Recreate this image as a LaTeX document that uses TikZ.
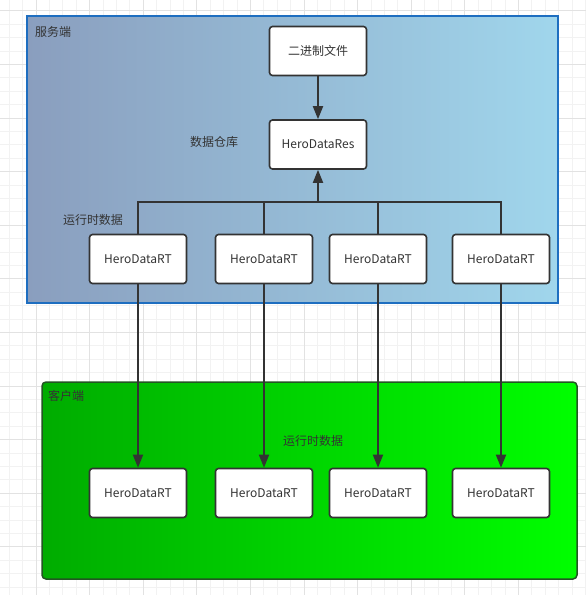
\documentclass[tikz,border=0pt]{standalone}
\usepackage{fontspec}
\setmainfont{Noto Sans CJK SC}
\usepackage{tikz}
\usetikzlibrary{shapes,arrows.meta}
\definecolor{gridminor}{RGB}{242,242,242}
\definecolor{gridmajor}{RGB}{226,226,226}
\definecolor{srvleft}{RGB}{138,158,190}
\definecolor{srvright}{RGB}{160,214,236}
\definecolor{srvline}{RGB}{30,110,192}
\definecolor{cltleft}{RGB}{0,172,0}
\definecolor{cltright}{RGB}{0,255,0}
\definecolor{cltline}{RGB}{35,85,35}
\definecolor{ink}{RGB}{51,51,51}

\begin{document}
\begin{tikzpicture}[x=1pt,y=-1pt,
  databox/.style={draw=ink,line width=1.6pt,fill=white,rounded corners=3pt,
    minimum width=97pt,minimum height=49pt,inner sep=0pt,text=ink,font=\fontsize{12}{14}\selectfont},
  tag/.style={text=ink,inner sep=0pt,font=\fontsize{12}{14}\selectfont},
  link/.style={draw=ink,line width=1.8pt},
  arr/.style={link,-{Triangle[length=13pt,width=10pt]}}]
\useasboundingbox (0,0) rectangle (586,595);
\fill[white] (0,0) rectangle (586,595);
% background grid
\foreach \i in {-2,...,41} \draw[gridminor,line width=0.8pt] (36+13.4*\i,0) -- (36+13.4*\i,595);
\foreach \i in {-1,...,44} \draw[gridminor,line width=0.8pt] (0,10.8+13.4*\i) -- (586,10.8+13.4*\i);
\foreach \i in {0,...,10} \draw[gridmajor,line width=0.8pt] (36+53.6*\i-53.6,0) -- (36+53.6*\i-53.6,595);
\foreach \i in {0,...,11} \draw[gridmajor,line width=0.8pt] (0,10.8+53.6*\i) -- (586,10.8+53.6*\i);
% server side
\shade[left color=srvleft,right color=srvright] (27,16) rectangle (558,303);
\draw[srvline,line width=1.8pt] (27,16) rectangle (558,303);
\node[tag,anchor=west] (srv) at (35,32) {服务端};
% client side
\shade[left color=cltleft,right color=cltright,rounded corners=4pt] (42,382) rectangle (577,579);
\draw[cltline,line width=1.5pt,rounded corners=4pt] (42,382) rectangle (577,579);
\node[tag,anchor=west] (clt) at (48,396) {客户端};
% nodes
\node[databox] (bin) at (318,51) {二进制文件};
\node[databox] (res) at (318,144.5) {HeroDataRes};
\node[tag] (store) at (214,142) {数据仓库};
\node[tag] (rtsrv) at (93,220) {运行时数据};
\node[tag] (rtclt) at (313,441) {运行时数据};
\node[databox] (rt1) at (138,259) {HeroDataRT};
\node[databox] (rt2) at (264,259) {HeroDataRT};
\node[databox] (rt3) at (378,259) {HeroDataRT};
\node[databox] (rt4) at (501,259) {HeroDataRT};
\node[databox] (cl1) at (138,493) {HeroDataRT};
\node[databox] (cl2) at (264,493) {HeroDataRT};
\node[databox] (cl3) at (378,493) {HeroDataRT};
\node[databox] (cl4) at (501,493) {HeroDataRT};
% connectors
\coordinate (bus) at (318,202);
\draw[arr] (bin) -- (res);
\draw[link] (rt1.north) |- (bus);
\draw[link] (rt4.north) |- (bus);
\draw[link] (rt2.north) -- (rt2.north |- bus);
\draw[link] (rt3.north) -- (rt3.north |- bus);
\draw[arr] (bus) -- (res.south);
\draw[arr] (rt1) -- (cl1);
\draw[arr] (rt2) -- (cl2);
\draw[arr] (rt3) -- (cl3);
\draw[arr] (rt4) -- (cl4);
\end{tikzpicture}
\end{document}
